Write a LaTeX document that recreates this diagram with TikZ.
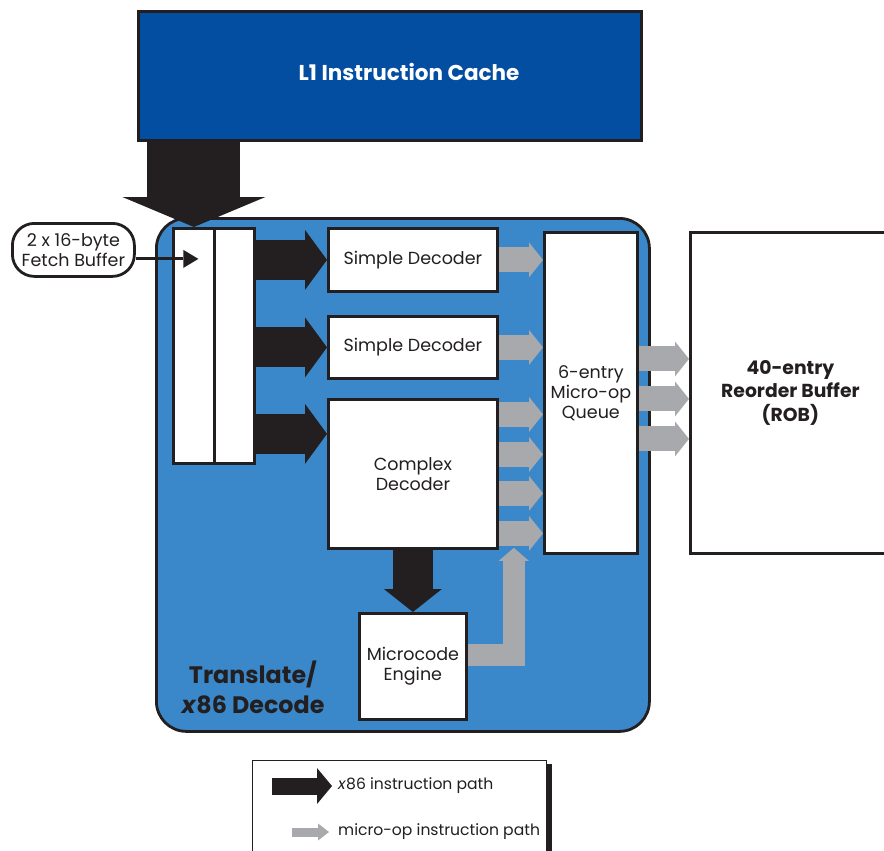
\documentclass[tikz,border=0pt]{standalone}
\usepackage{fontspec}
\setmainfont{Poppins}
\usetikzlibrary{arrows.meta,calc}
\definecolor{ink}{RGB}{35,31,32}
\definecolor{cacheblue}{RGB}{4,78,162}
\definecolor{boxblue}{RGB}{58,136,201}
\definecolor{ugray}{RGB}{167,169,172}
\newcommand\regf{\fontsize{17.5}{20}\selectfont}
\newcommand\smallf{\fontsize{17.5}{20}\selectfont}
\newcommand\legf{\fontsize{15.6}{18}\selectfont}
\newcommand\robf{\fontsize{18.8}{23.5}\selectfont\bfseries}
\newcommand\cachef{\fontsize{21.5}{24}\selectfont\bfseries}
\newcommand\transf{\fontsize{23.8}{30}\selectfont\bfseries}
\begin{document}
\begin{tikzpicture}[x=1pt,y=-1pt,
  box/.style={draw=ink,line width=2.8pt,fill=white,inner sep=0pt,anchor=north west,align=center,font=\regf,text=ink},
  xpath/.style={draw=ink,line width=40pt,-{Triangle[length=22pt,width=60pt,line width=0pt]}},
  bigpath/.style={draw=ink,line width=93pt,-{Triangle[length=30pt,width=143pt,line width=0pt]}},
  downpath/.style={draw=ink,line width=40pt,-{Triangle[length=23pt,width=58pt,line width=0pt]}},
  upath/.style={draw=ugray,line width=25pt,-{Triangle[length=14pt,width=35pt,line width=0pt]}},
  mpath/.style={draw=ugray,line width=22pt,-{Triangle[length=13pt,width=30pt,line width=0pt]}},
  legx/.style={draw=ink,line width=17pt,-{Triangle[length=15pt,width=36pt,line width=0pt]}},
  legu/.style={draw=ugray,line width=9pt,-{Triangle[length=11pt,width=17pt,line width=0pt]}},
  fbarrow/.style={draw=ink,line width=3pt,-{Triangle[length=15pt,width=18pt,line width=0pt]}}
]
\useasboundingbox (0,0) rectangle (884,851);

% main decode block
\node[box,fill=boxblue,rounded corners=30pt,minimum width=493pt,minimum height=513pt] (decode) at (155,217) {};
\node[font=\transf,text=ink,align=center,inner sep=0pt] (translbl) at (253,687) {Translate/\\\textit{x}86 Decode};

% L1 cache
\node[box,fill=cacheblue,minimum width=503pt,minimum height=129pt] (cache) at (137,10) {};
\node[font=\cachef,text=white,inner sep=0pt] (cachelbl) at (409,72) {L1 Instruction Cache};

% fetch buffer
\node[box,minimum width=41pt,minimum height=235pt] (fb1) at (172,227) {};
\node[box,minimum width=40pt,minimum height=235pt] (fb2) at (213,227) {};

% decoders
\node[box,minimum width=169pt,minimum height=63pt] (sd1) at (327,227) {Simple Decoder};
\node[box,minimum width=169pt,minimum height=62pt] (sd2) at (327,315) {Simple Decoder};
\node[box,minimum width=169pt,minimum height=149pt] (cplx) at (327,398) {Complex\\Decoder};

% queue, ROB, microcode
\node[box,minimum width=93pt,minimum height=321pt] (q) at (543,231) {6-entry\\Micro-op\\Queue};
\node[box,minimum width=200pt,minimum height=321pt,font=\robf] (rob) at (689,231) {40-entry\\Reorder Buffer\\(ROB)};
\node[box,minimum width=107pt,minimum height=106pt] (mc) at (358,612) {Microcode\\Engine};

% fetch buffer label
\node[box,rounded corners=22pt,minimum width=122pt,minimum height=53pt,font=\smallf] (fbl) at (11,222) {2 x 16-byte\\Fetch Buffer};

% big arrow from cache
\draw[bigpath] (fb1.north |- cache.south) -- (fb1.north);

% fetch label arrow
\coordinate (fa) at ([yshift=-9pt]fbl.east);
\draw[fbarrow] (fa) -- ($(fa -| fb1.center)+(4.5,0)$);

% x86 paths to decoders
\draw[xpath] (fb2.east |- sd1.west) -- (sd1.west);
\draw[xpath] (fb2.east |- sd2.west) -- (sd2.west);
\coordinate (c3) at ([yshift=40pt]cplx.west);
\draw[xpath] (fb2.east |- c3) -- (c3);

% micro-op paths to queue
\draw[upath] (sd1.east) -- (sd1.east -| q.west);
\draw[upath] (sd2.east) -- (sd2.east -| q.west);
\coordinate (k1) at ([yshift=59.5pt]cplx.east);
\coordinate (k2) at ([yshift=19.5pt]cplx.east);
\coordinate (k3) at ([yshift=-19.5pt]cplx.east);
\coordinate (k4) at ([yshift=-59.5pt]cplx.east);
\draw[upath] (k1) -- (k1 -| q.west);
\draw[upath] (k2) -- (k2 -| q.west);
\draw[upath] (k3) -- (k3 -| q.west);
\draw[upath] (k4) -- (k4 -| q.west);

% queue to ROB
\coordinate (r1) at ([yshift=34pt]q.east);
\coordinate (r2) at ([yshift=-6pt]q.east);
\coordinate (r3) at ([yshift=-46pt]q.east);
\draw[upath] (r1) -- (r1 -| rob.west);
\draw[upath] (r2) -- (r2 -| rob.west);
\draw[upath] (r3) -- (r3 -| rob.west);

% complex to microcode
\draw[downpath] (cplx.south) -- (mc.north);

% microcode back up
\coordinate (mt) at ([xshift=15pt,yshift=2pt]cplx.south east);
\draw[mpath] ([yshift=11pt]mc.east) -| (mt);

% legend
\fill[ink] (257,764) rectangle (552,870);
\node[draw=ink,line width=1.2pt,fill=white,anchor=north west,minimum width=294pt,minimum height=110pt,inner sep=0pt] (legend) at (252,760) {};
\node[anchor=west,font=\legf,text=ink,inner sep=0pt] (lt1) at (338,786) {\textit{x}86 instruction path};
\node[anchor=west,font=\legf,text=ink,inner sep=0pt] (lt2) at (338,832) {micro-op instruction path};
\coordinate (lx1) at ([xshift=-66pt]lt1.west);
\coordinate (lx1e) at ([xshift=-6pt]lt1.west);
\coordinate (lx2) at ([xshift=-46pt]lt2.west);
\coordinate (lx2e) at ([xshift=-9pt]lt2.west);
\draw[legx] (lx1) -- (lx1e);
\draw[legu] (lx2) -- (lx2e);
\end{tikzpicture}
\end{document}
